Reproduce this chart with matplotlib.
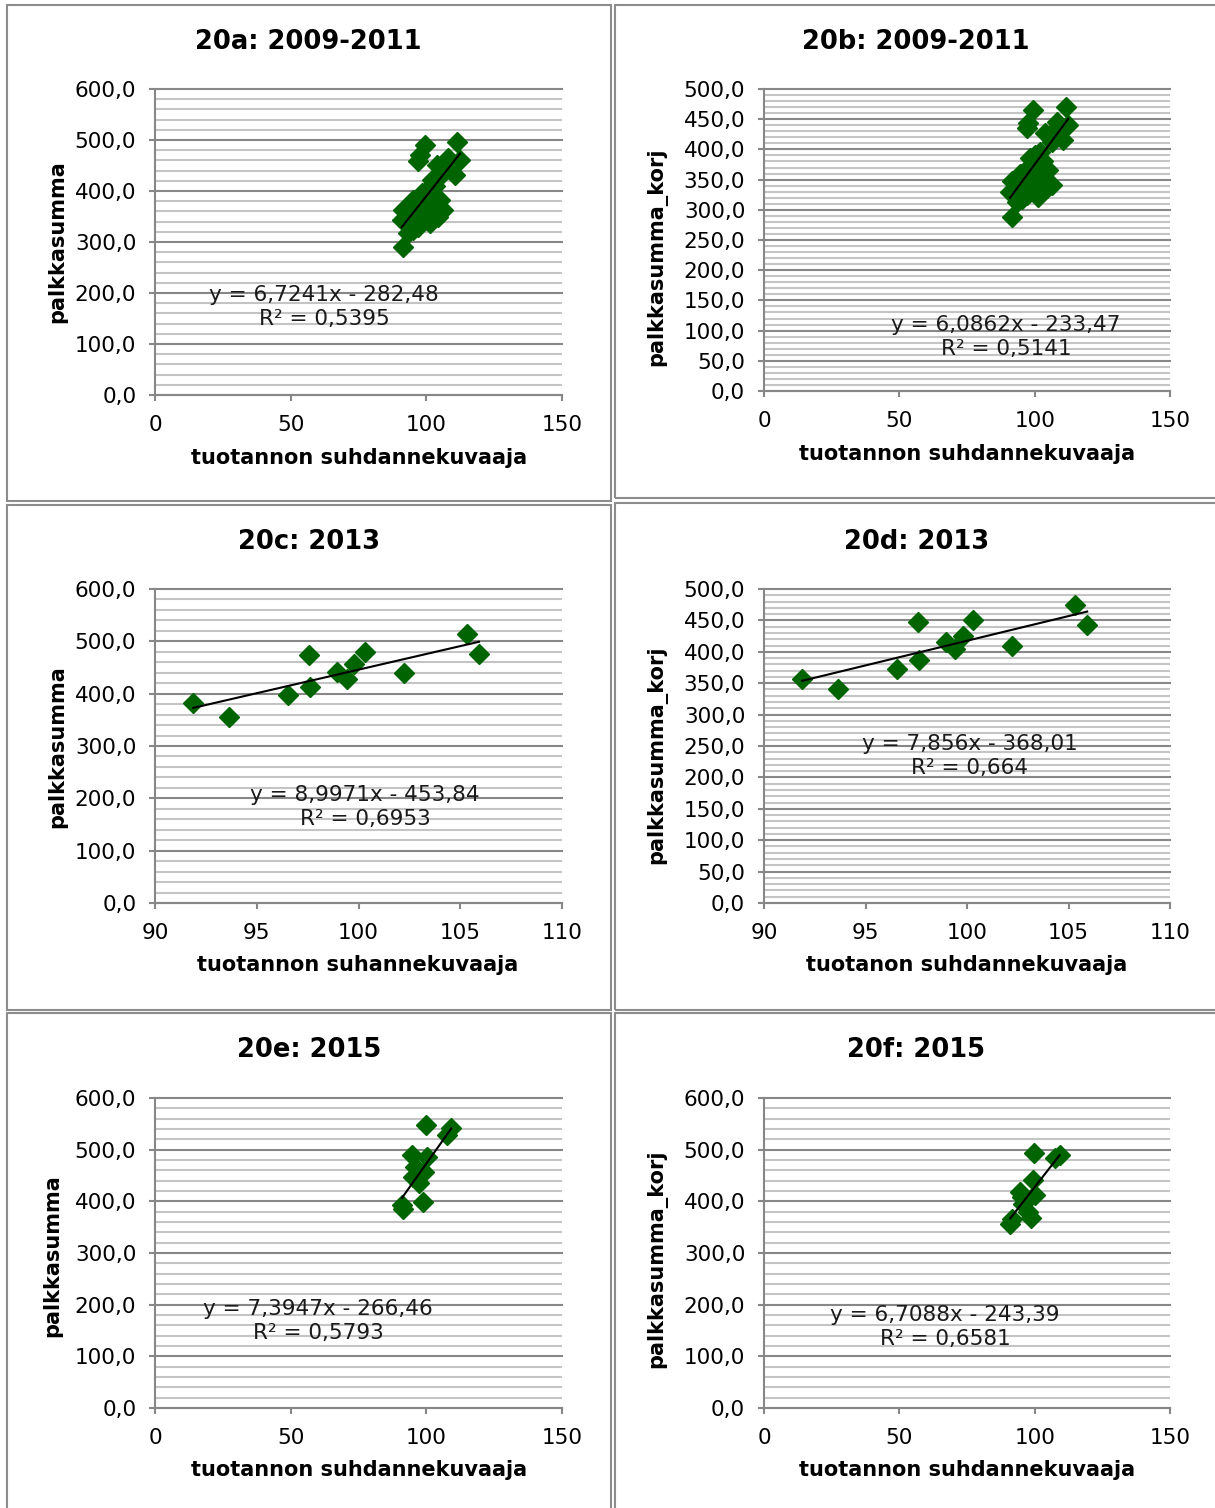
import matplotlib
matplotlib.use("Agg")
import matplotlib.pyplot as plt
from matplotlib.patches import Rectangle
from matplotlib.ticker import FuncFormatter, MultipleLocator

W, H = 1215, 1508

# 2009-2011, monthly
x_0911 = [91.5, 90.9, 91.5, 92.8, 93.4, 94.0, 95.2, 95.2, 96.4, 97.0, 97.7, 98.3,
          98.9, 97.0, 97.7, 99.5, 99.5, 100.1, 100.1, 101.4, 102.6, 102.0, 103.2, 103.8,
          104.4, 105.0, 106.3, 106.3, 106.9, 108.1, 110.6, 111.4, 112.4, 94.6, 99.0, 101.0]
palkka_0911 = [291, 343, 363, 337, 317, 366, 382, 324, 350, 330, 373, 396,
               343, 458, 471, 490, 382, 402, 369, 337, 356, 422, 409, 451,
               350, 382, 363, 435, 448, 464, 432, 497, 461, 372, 355, 390]
korj_0911 = [288, 330, 347, 330, 313, 355, 360, 318, 340, 325, 369, 385,
             337, 435, 443, 465, 372, 391, 356, 322, 345, 396, 380, 427,
             336, 366, 341, 412, 428, 446, 415, 471, 441, 360, 345, 375]

# 2013
x_13 = [91.88, 93.65, 96.54, 97.57, 97.62, 98.96, 99.42, 99.78, 100.32, 102.24, 105.31, 105.92]
palkka_13 = [383, 356, 397, 474, 412, 441, 428, 457, 479, 439, 514, 476]
korj_13 = [357, 341, 373, 448, 387, 415, 405, 425, 450, 409, 475, 443]

# 2015
x_15 = [91.0, 91.5, 94.6, 95.2, 95.8, 97.4, 98.6, 99.3, 99.8, 100.1, 107.6, 109.2]
palkka_15 = [393, 386, 489, 448, 467, 435, 399, 457, 547, 486, 528, 541]
korj_15 = [357, 365, 418, 409, 395, 380, 367, 441, 493, 412, 483, 490]

# linear trend: slope, intercept, R^2
trend_a = (6.7241, -282.48, 0.5395)
trend_b = (6.0862, -233.47, 0.5141)
trend_c = (8.9971, -453.84, 0.6953)
trend_d = (7.856, -368.01, 0.664)
trend_e = (7.3947, -266.46, 0.5793)
trend_f = (6.7088, -243.39, 0.6581)

titles = ["20a: 2009-2011", "20b: 2009-2011", "20c: 2013", "20d: 2013", "20e: 2015", "20f: 2015"]
ylabels = ["palkkasumma", "palkkasumma_korj", "palkkasumma", "palkkasumma_korj",
           "palkkasumma", "palkkasumma_korj"]
xlabels = ["tuotannon suhdannekuvaaja", "tuotannon suhdannekuvaaja",
           "tuotannon suhannekuvaaja", "tuotanon suhdannekuvaaja",
           "tuotannon suhdannekuvaaja", "tuotannon suhdannekuvaaja"]

GREEN = "#006400"
MAJOR = "#878787"
MINOR = "#c4c4c4"

panels = [
    # data, trend, axes box px (l, t, r, b), xlim, xstep, ylim, ystep, minor,
    # title xy, ylabel xy, xlabel xy, equation xy
    dict(x=x_0911, y=palkka_0911, tr=trend_a, box=(155, 89, 562, 395), xlim=(0, 150), xs=50,
         ylim=(0, 600), ys=100, ym=20, tt=(308, 42), yl=(57, 242), xl=(359, 458), eq=(324, 307)),
    dict(x=x_0911, y=korj_0911, tr=trend_b, box=(764, 89, 1170, 391), xlim=(0, 150), xs=50,
         ylim=(0, 500), ys=50, ym=10, tt=(916, 42), yl=(657, 257), xl=(967, 454), eq=(1006, 337)),
    dict(x=x_13, y=palkka_13, tr=trend_c, box=(155, 589, 562, 903), xlim=(90, 110), xs=5,
         ylim=(0, 600), ys=100, ym=20, tt=(309, 542), yl=(57, 747), xl=(358, 965), eq=(365, 807)),
    dict(x=x_13, y=korj_13, tr=trend_d, box=(764, 589, 1170, 903), xlim=(90, 110), xs=5,
         ylim=(0, 500), ys=50, ym=10, tt=(917, 542), yl=(657, 755), xl=(967, 965), eq=(970, 756)),
    dict(x=x_15, y=palkka_15, tr=trend_e, box=(155, 1098, 562, 1408), xlim=(0, 150), xs=50,
         ylim=(0, 600), ys=100, ym=20, tt=(309, 1050), yl=(52, 1256), xl=(359, 1470), eq=(318, 1321)),
    dict(x=x_15, y=korj_15, tr=trend_f, box=(764, 1098, 1170, 1408), xlim=(0, 150), xs=50,
         ylim=(0, 600), ys=100, ym=20, tt=(916, 1050), yl=(657, 1259), xl=(967, 1470), eq=(945, 1327)),
]

# panel frames (l, t, r, b) in px
frames = [(7, 5, 611, 501), (615, 5, 1217, 498),
          (7, 505, 611, 1010), (615, 503, 1217, 1010),
          (7, 1013, 611, 1512), (615, 1013, 1217, 1512)]

fig = plt.figure(figsize=(W / 100, H / 100), dpi=100)
fig.patch.set_facecolor("white")


def fx(px):
    return px / W


def fy(py):
    return 1 - py / H


for (l, t, r, b) in frames:
    fig.patches.append(Rectangle((fx(l), fy(b)), fx(r - l), (b - t) / H,
                                 transform=fig.transFigure, fill=False,
                                 edgecolor="#8c8c8c", lw=1.5))

dec = FuncFormatter(lambda v, p: f"{v:.1f}".replace(".", ","))

for i, p in enumerate(panels):
    l, t, r, b = p["box"]
    ax = fig.add_axes([fx(l), fy(b), fx(r - l), (b - t) / H])
    ax.set_xlim(*p["xlim"])
    ax.set_ylim(*p["ylim"])
    ax.xaxis.set_major_locator(MultipleLocator(p["xs"]))
    ax.yaxis.set_major_locator(MultipleLocator(p["ys"]))
    ax.yaxis.set_minor_locator(MultipleLocator(p["ym"]))
    ax.yaxis.set_major_formatter(dec)

    ax.set_axisbelow(True)
    ax.grid(axis="y", which="major", color=MAJOR, lw=1.5)
    ax.grid(axis="y", which="minor", color=MINOR, lw=1.5)
    for tk in ax.yaxis.get_major_ticks():
        tk.gridline.set_clip_on(False)

    for s in ("top", "right"):
        ax.spines[s].set_visible(False)
    for s in ("left", "bottom"):
        ax.spines[s].set_color(MAJOR)
        ax.spines[s].set_linewidth(1.5)
    ax.tick_params(axis="both", which="major", direction="out", length=4.5, width=1.5,
                   color=MAJOR, labelsize=15.5, labelcolor="black")
    ax.tick_params(axis="y", which="minor", length=0)
    ax.tick_params(axis="y", pad=9)
    ax.tick_params(axis="x", pad=10)

    ax.plot(p["x"], p["y"], linestyle="none", marker="D", ms=10,
            color=GREEN, mec=GREEN, zorder=3)

    k, c, r2 = p["tr"]
    x0, x1 = min(p["x"]), max(p["x"])
    ax.plot([x0, x1], [k * x0 + c, k * x1 + c], color="black", lw=1.5, zorder=4)

    sign = "-" if c < 0 else "+"
    eq = f"y = {k:g}x {sign} {abs(c):g}".replace(".", ",")
    eq += "\n" + f"R² = {r2:g}".replace(".", ",")
    fig.text(fx(p["eq"][0]), fy(p["eq"][1]), eq, ha="center", va="center",
             fontsize=15.5, color="#1a1a1a", linespacing=1.3, zorder=5)

    fig.text(fx(p["tt"][0]), fy(p["tt"][1]), titles[i], ha="center", va="center",
             fontsize=18.5, fontweight="bold")
    fig.text(fx(p["yl"][0]), fy(p["yl"][1]), ylabels[i], ha="center", va="center",
             rotation=90, fontsize=15, fontweight="bold")
    fig.text(fx(p["xl"][0]), fy(p["xl"][1]), xlabels[i], ha="center", va="center",
             fontsize=15, fontweight="bold")

fig.savefig("out.png", dpi=100, facecolor="white")
